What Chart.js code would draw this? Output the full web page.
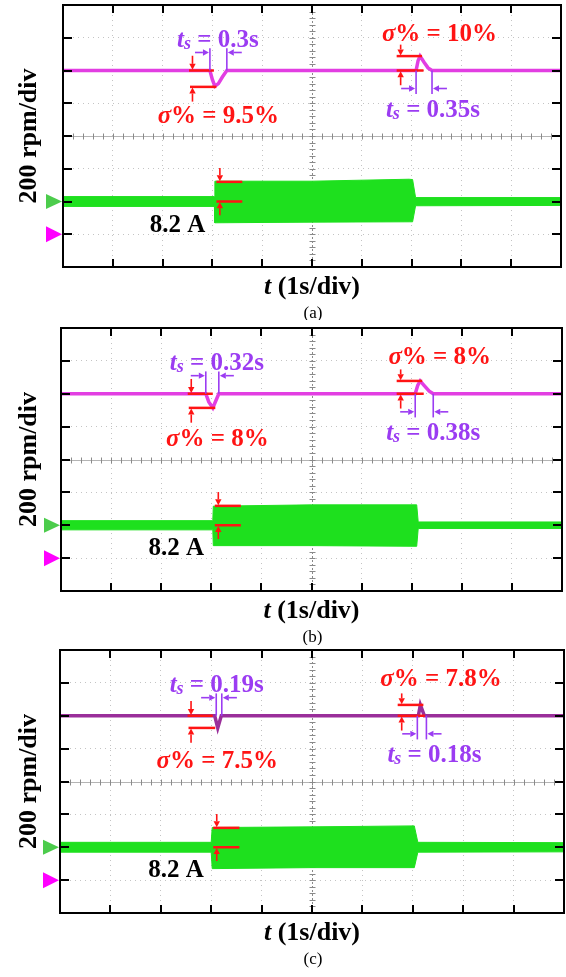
<!DOCTYPE html>
<html>
<head>
<meta charset="utf-8">
<script src="https://cdn.jsdelivr.net/npm/chart.js@4.4.1/dist/chart.umd.min.js"></script>
<style>
  html, body { margin: 0; padding: 0; background: #fff; }
  #wrap { position: relative; width: 566px; height: 977px; }
  canvas { position: absolute; left: 0; }
</style>
</head>
<body>
<div id="wrap">
  <canvas id="ca" width="566" height="320" style="top:0"></canvas>
  <canvas id="cb" width="566" height="325" style="top:320px"></canvas>
  <canvas id="cc" width="566" height="332" style="top:645px"></canvas>
</div>
<script>
// values in scope divisions (x: 1 s/div, y: 200 rpm/div, 0 = screen centre)

// speed traces
const speedTimeA = [0, 2.95, 3.0, 3.05, 3.12, 3.2, 3.29, 7.09, 7.13, 7.17, 7.25, 7.33, 7.41, 10];
const speedA     = [2, 2, 1.72, 1.52, 1.6, 1.8, 2, 2, 2.3, 2.44, 2.25, 2.08, 2, 2];
const speedTimeB = [0, 2.89, 2.95, 3.03, 3.08, 3.15, 7.07, 7.12, 7.17, 7.25, 7.35, 7.43, 10];
const speedB     = [2, 2, 1.75, 1.57, 1.75, 2, 2, 2.25, 2.39, 2.25, 2.08, 2, 2];
const speedTimeC = [0, 3.07, 3.13, 3.2, 7.11, 7.15, 7.23, 10];
const speedC     = [2, 2, 1.63, 2, 2, 2.33, 2, 2];

// current envelope (upper / lower edge of the green band)
const curTimeA = [0, 3.04, 3.05, 5, 6.95, 7.02, 7.08, 10];
const curHighA = [-1.85, -1.85, -1.38, -1.38, -1.32, -1.33, -1.88, -1.88];
const curLowA  = [-2.15, -2.15, -2.65, -2.63, -2.62, -2.62, -2.13, -2.12];
const curTimeB = [0, 3.03, 3.04, 5, 7.1, 7.13, 10];
const curHighB = [-1.86, -1.86, -1.42, -1.38, -1.38, -1.9, -1.9];
const curLowB  = [-2.14, -2.14, -2.62, -2.62, -2.64, -2.1, -2.1];
const curTimeC = [0, 3.0, 3.02, 5, 7.03, 7.1, 10];
const curHighC = [-1.85, -1.85, -1.4, -1.38, -1.35, -1.85, -1.86];
const curLowC  = [-2.15, -2.15, -2.65, -2.62, -2.62, -2.15, -2.14];

// annotations
const dipT1    = [2.95, 2.89, 3.10];
const dipT2    = [3.29, 3.15, 3.21];
const dipLow   = [1.5, 1.57, 1.63];
const overT1   = [7.09, 7.07, 7.09];
const overT2   = [7.41, 7.43, 7.27];
const overHigh = [2.44, 2.39, 2.33];
const stepOn   = [3.05, 3.04, 3.01];
const stepTop  = [-1.40, -1.41, -1.41];
const tsDip    = ['0.3s', '0.32s', '0.19s'];
const sigDip   = ['9.5%', '8%', '7.5%'];
const tsOver   = ['0.35s', '0.38s', '0.18s'];
const sigOver  = ['10%', '8%', '7.8%'];
const captions = ['(a)', '(b)', '(c)'];

const RED = '#ff1414';
const PURPLE = '#9b3cf2';
const GREEN = '#1ee01e';
const SERIF = '"Liberation Serif", "Times New Roman", serif';

function fnt(s) {
  return (s.it ? 'italic ' : '') + (s.reg ? '' : 'bold ') + s.sz + 'px ' + SERIF;
}

function drawRich(ctx, segs, cx, cy, color) {
  let w = 0;
  segs.forEach(s => { ctx.font = fnt(s); s.w = ctx.measureText(s.t).width; w += s.w; });
  let xx = cx - w / 2;
  ctx.fillStyle = color;
  ctx.textAlign = 'left';
  ctx.textBaseline = 'alphabetic';
  const base = segs[segs.length - 1].sz * 0.34;
  segs.forEach(s => {
    ctx.font = fnt(s);
    ctx.fillText(s.t, xx, cy + base + (s.dy || 0));
    xx += s.w;
  });
}

function seg(ctx, x1, y1, x2, y2) {
  ctx.beginPath(); ctx.moveTo(x1, y1); ctx.lineTo(x2, y2); ctx.stroke();
}

// arrow from (x1,y1) with head at (x2,y2)
function arrow(ctx, x1, y1, x2, y2, color) {
  ctx.strokeStyle = color; ctx.fillStyle = color; ctx.lineWidth = 1.6;
  const ang = Math.atan2(y2 - y1, x2 - x1);
  const hl = 6, hw = 3.2;
  const bx = x2 - hl * Math.cos(ang), by = y2 - hl * Math.sin(ang);
  seg(ctx, x1, y1, bx, by);
  ctx.beginPath();
  ctx.moveTo(x2, y2);
  ctx.lineTo(bx + hw * Math.sin(ang), by - hw * Math.cos(ang));
  ctx.lineTo(bx - hw * Math.sin(ang), by + hw * Math.cos(ang));
  ctx.closePath(); ctx.fill();
}

const scopePlugin = {
  id: 'scope',
  beforeDatasetsDraw(chart) {
    const { ctx, chartArea: a, scales: { x, y } } = chart;
    const cx = Math.round(x.getPixelForValue(5)) + 0.5;
    const cy = Math.round(y.getPixelForValue(0)) + 0.5;
    ctx.save();
    ctx.lineWidth = 1;
    ctx.strokeStyle = '#b4b4b4';
    seg(ctx, a.left, cy, a.right, cy);
    ctx.setLineDash([2, 2]);
    ctx.strokeStyle = '#8a8a8a';
    seg(ctx, cx, a.top, cx, a.bottom);
    ctx.setLineDash([]);
    ctx.strokeStyle = '#8a8a8a';
    for (let i = 0; i <= 50; i++) {
      const px = Math.round(x.getPixelForValue(i * 0.2)) + 0.5;
      seg(ctx, px, cy - 3, px, cy + 3);
    }
    for (let i = 0; i <= 40; i++) {
      const py = Math.round(y.getPixelForValue(-4 + i * 0.2)) + 0.5;
      seg(ctx, cx - 3, py, cx + 3, py);
    }
    ctx.restore();
  },
  afterDraw(chart, args, opts) {
    const { ctx, chartArea: a, scales: { x, y } } = chart;
    const k = opts.idx;
    const X = v => x.getPixelForValue(v);
    const Y = v => y.getPixelForValue(v);
    ctx.save();

    // frame + inward ticks
    ctx.strokeStyle = '#000'; ctx.lineWidth = 2;
    ctx.strokeRect(a.left, a.top, a.right - a.left, a.bottom - a.top);
    for (let t = 1; t < 10; t++) {
      const px = Math.round(X(t));
      seg(ctx, px, a.top, px, a.top + 8);
      seg(ctx, px, a.bottom, px, a.bottom - 8);
    }
    for (let v = -3; v < 4; v++) {
      const py = Math.round(Y(v));
      seg(ctx, a.left, py, a.left + 9, py);
      seg(ctx, a.right, py, a.right - 9, py);
    }

    // channel markers
    const tri = (v, col, hh) => {
      const py = Y(v);
      ctx.fillStyle = col;
      ctx.beginPath();
      ctx.moveTo(a.left - 1, py);
      ctx.lineTo(a.left - 17, py - hh);
      ctx.lineTo(a.left - 17, py + hh);
      ctx.closePath(); ctx.fill();
    };
    tri(-2, '#4ccc4c', 7.5);
    tri(-3, '#ff00ff', 8);

    // speed dip (load on)
    ctx.lineWidth = 2.5; ctx.strokeStyle = RED;
    seg(ctx, X(2.53), Y(2), X(3.03), Y(2));
    seg(ctx, X(2.55), Y(dipLow[k]), X(3.08), Y(dipLow[k]));
    arrow(ctx, X(2.6), Y(2.45), X(2.6), Y(2.02), RED);
    arrow(ctx, X(2.6), Y(dipLow[k] - 0.45), X(2.6), Y(dipLow[k] - 0.02), RED);
    ctx.strokeStyle = PURPLE; ctx.lineWidth = 1.6;
    seg(ctx, X(dipT1[k]), Y(2), X(dipT1[k]), Y(2.68));
    seg(ctx, X(dipT2[k]), Y(2), X(dipT2[k]), Y(2.68));
    arrow(ctx, X(dipT1[k] - 0.3), Y(2.55), X(dipT1[k]) - 1, Y(2.55), PURPLE);
    arrow(ctx, X(dipT2[k] + 0.3), Y(2.55), X(dipT2[k]) + 1, Y(2.55), PURPLE);

    // speed overshoot (load off)
    ctx.lineWidth = 2.5; ctx.strokeStyle = RED;
    seg(ctx, X(6.7), Y(overHigh[k]), X(7.21), Y(overHigh[k]));
    seg(ctx, X(6.7), Y(2), X(7.24), Y(2));
    arrow(ctx, X(6.78), Y(overHigh[k] + 0.35), X(6.78), Y(overHigh[k] + 0.02), RED);
    arrow(ctx, X(6.78), Y(1.55), X(6.78), Y(1.98), RED);
    ctx.strokeStyle = PURPLE; ctx.lineWidth = 1.6;
    seg(ctx, X(overT1[k]), Y(2), X(overT1[k]), Y(1.28));
    seg(ctx, X(overT2[k]), Y(2), X(overT2[k]), Y(1.28));
    arrow(ctx, X(overT1[k] - 0.3), Y(1.45), X(overT1[k]) - 1, Y(1.45), PURPLE);
    arrow(ctx, X(overT2[k] + 0.3), Y(1.45), X(overT2[k]) + 1, Y(1.45), PURPLE);

    // current step
    ctx.lineWidth = 2.5; ctx.strokeStyle = RED;
    seg(ctx, X(stepOn[k] + 0.03), Y(stepTop[k]), X(stepOn[k] + 0.55), Y(stepTop[k]));
    seg(ctx, X(stepOn[k] + 0.03), Y(-2), X(stepOn[k] + 0.55), Y(-2));
    arrow(ctx, X(stepOn[k] + 0.1), Y(stepTop[k] + 0.42), X(stepOn[k] + 0.1), Y(stepTop[k] + 0.02), RED);
    arrow(ctx, X(stepOn[k] + 0.1), Y(-2.42), X(stepOn[k] + 0.1), Y(-2.02), RED);

    // labels
    const tsSegs = val => [
      { t: 't', it: true, sz: 25 }, { t: 's', it: true, sz: 18, dy: 2 }, { t: ' = ' + val, sz: 25 }
    ];
    const sgSegs = val => [{ t: 'σ', it: true, sz: 25 }, { t: '% = ' + val, sz: 25 }];
    drawRich(ctx, tsSegs(tsDip[k]), X(3.11), Y(2.97), PURPLE);
    drawRich(ctx, sgSegs(sigDip[k]), X(3.12), Y(0.66), RED);
    drawRich(ctx, sgSegs(sigOver[k]), X(7.56), Y(3.16), RED);
    drawRich(ctx, tsSegs(tsOver[k]), X(7.43), Y(0.84), PURPLE);
    drawRich(ctx, [{ t: '8.2 A', sz: 25 }], X(2.3), Y(-2.66), '#000');

    // axis titles and caption
    const midX = (a.left + a.right) / 2, midY = (a.top + a.bottom) / 2;
    drawRich(ctx, [{ t: 't', it: true, sz: 26 }, { t: ' (1s/div)', sz: 26 }], midX, a.bottom + 18, '#000');
    ctx.save();
    ctx.translate(27, midY);
    ctx.rotate(-Math.PI / 2);
    drawRich(ctx, [{ t: '200 rpm/div', sz: 26 }], 0, 0, '#000');
    ctx.restore();
    drawRich(ctx, [{ t: captions[k], sz: 17, reg: true }], midX + 1, a.bottom + 45, '#000');

    ctx.restore();
  }
};

function pts(ts, vs) {
  return ts.map((t, i) => ({ x: t, y: vs[i] }));
}

function makeScope(id, idx, pad, sT, sV, cT, cHi, cLo, speedColor) {
  return new Chart(document.getElementById(id), {
    type: 'line',
    data: {
      datasets: [
        { data: pts(cT, cHi), borderColor: GREEN, backgroundColor: GREEN, borderWidth: 1, fill: '+1' },
        { data: pts(cT, cLo), borderColor: GREEN, borderWidth: 1, fill: false },
        { data: pts(sT, sV), borderColor: speedColor, borderWidth: 3.5, fill: false }
      ]
    },
    options: {
      responsive: false,
      animation: false,
      events: [],
      layout: { padding: pad },
      elements: { point: { radius: 0 }, line: { tension: 0 } },
      plugins: { legend: { display: false }, tooltip: { enabled: false }, scope: { idx } },
      scales: {
        x: {
          type: 'linear', min: 0, max: 10,
          ticks: { stepSize: 1, display: false },
          grid: { color: c => (c.tick.value === 5 ? 'rgba(0,0,0,0)' : '#c4c4c4'), drawTicks: false },
          border: { display: false, dash: [1, 4] }
        },
        y: {
          min: -4, max: 4,
          ticks: { stepSize: 1, display: false },
          grid: { color: c => (c.tick.value === 0 ? 'rgba(0,0,0,0)' : '#c4c4c4'), drawTicks: false },
          border: { display: false, dash: [1, 4] }
        }
      }
    },
    plugins: [scopePlugin]
  });
}

makeScope('ca', 0, { left: 63, top: 5, right: 5, bottom: 53 }, speedTimeA, speedA, curTimeA, curHighA, curLowA, '#e23ee2');
makeScope('cb', 1, { left: 61, top: 8, right: 4, bottom: 54 }, speedTimeB, speedB, curTimeB, curHighB, curLowB, '#e23ee2');
makeScope('cc', 2, { left: 60, top: 5, right: 2, bottom: 64 }, speedTimeC, speedC, curTimeC, curHighC, curLowC, '#9a2e9a');
</script>
</body>
</html>
